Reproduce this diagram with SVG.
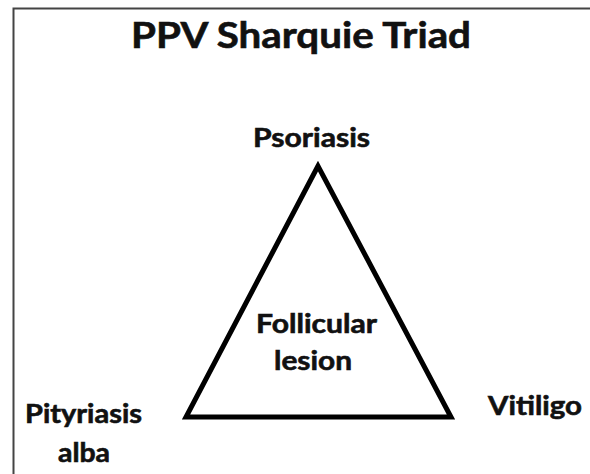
<svg xmlns="http://www.w3.org/2000/svg" width="590" height="474" viewBox="0 0 590 474">
<style>
.t{font-family:Lato,"Open Sans","Liberation Sans",sans-serif;font-weight:bold;fill:#111;stroke:#111;stroke-width:0.6;text-anchor:middle}
.lbl{font-size:26px}
</style>
<rect x="0" y="0" width="590" height="474" fill="#fff"/>
<g id="frame"><path d="M13.5 474 V8.5 H590" fill="none" stroke="#444" stroke-width="2"/></g>
<g id="title"><text class="t" x="301" y="48" font-size="35.5" textLength="340" lengthAdjust="spacingAndGlyphs">PPV Sharquie Triad</text></g>
<g id="connectors"><polygon points="318,166 186,417 451,417" fill="none" stroke="#000" stroke-width="5" stroke-linejoin="miter"/></g>
<g id="psoriasis"><text class="t lbl" x="311.5" y="147" textLength="117" lengthAdjust="spacingAndGlyphs">Psoriasis</text></g>
<g id="follicular"><text class="t lbl" x="316.5" y="333" textLength="121" lengthAdjust="spacingAndGlyphs">Follicular</text><text class="t lbl" x="313" y="370" textLength="78" lengthAdjust="spacingAndGlyphs">lesion</text></g>
<g id="pityriasis"><text class="t lbl" x="83.5" y="423" textLength="117" lengthAdjust="spacingAndGlyphs">Pityriasis</text><text class="t lbl" x="84" y="462" textLength="52" lengthAdjust="spacingAndGlyphs">alba</text></g>
<g id="vitiligo"><text class="t lbl" x="535" y="415" textLength="94" lengthAdjust="spacingAndGlyphs">Vitiligo</text></g>
</svg>
